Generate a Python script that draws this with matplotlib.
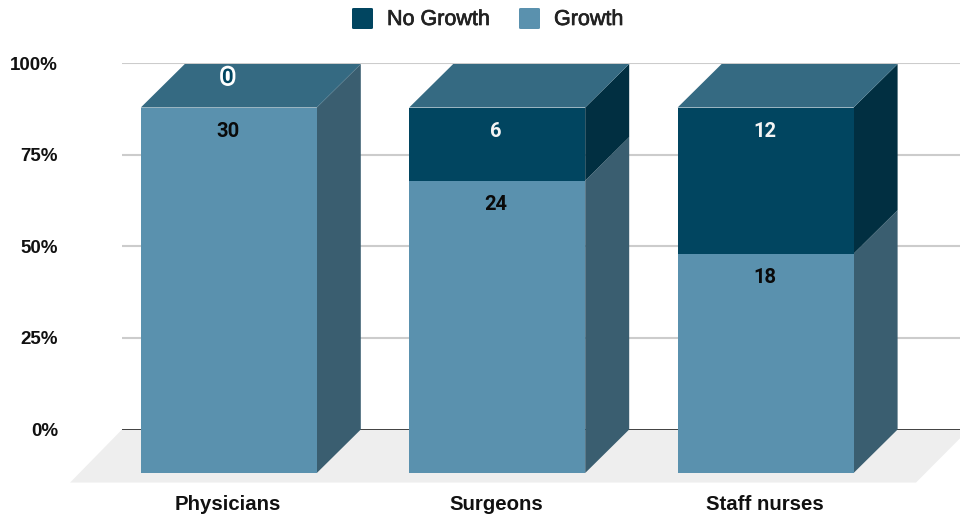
import matplotlib
matplotlib.use("Agg")
import matplotlib.pyplot as plt
from matplotlib.patches import Polygon, Rectangle, FancyBboxPatch
import matplotlib.patheffects as pe

categories = ["Physicians", "Surgeons", "Staff nurses"]
growth = [30, 24, 18]
no_growth = [0, 6, 12]
pct_ticks = [0, 25, 50, 75, 100]

C_GROWTH = "#5a91ae"
C_GROWTH_SIDE = "#3a5e70"
C_NOGROWTH = "#014560"
C_NOGROWTH_SIDE = "#012f41"
C_TOP = "#356a82"
C_FLOOR = "#eeeeee"

W, H = 960, 521
fig = plt.figure(figsize=(W / 100, H / 100), dpi=100)
# plot area runs off the right edge of the figure, 0-100% between y=429.5 and y=63.3
ax = fig.add_axes([122 / W, 1 - 429.5 / H, (960 - 122) / W, (429.5 - 63.3) / H])

spacing = 268.4
ax.set_xlim((122 - 228.8) / spacing, (960 - 228.8) / spacing)
ax.set_ylim(0, 100)

bar_w = 176 / spacing
dx = 44 / spacing          # box depth, horizontal
dy = 43.5 / 366.2 * 100    # box depth, vertical
front_scale = 365.5 / 366.2

for s in ax.spines.values():
    s.set_visible(False)
ax.set_xticks([])
ax.set_yticks(pct_ticks)
ax.set_yticklabels([f"{t}%" for t in pct_ticks], fontsize=13.5, fontweight="bold",
                   family="Liberation Sans", color="#111111")
ax.tick_params(axis="y", length=0, pad=46)


def poly(points, color, z):
    ax.add_patch(Polygon(points, closed=True, facecolor=color, edgecolor="none",
                         clip_on=False, zorder=z))


# floor below the zero line
x_left, x_right = ax.get_xlim()
poly([(x_left, 0), (x_left - dx * 1.18, -dy * 1.22), (x_right - dx, -dy * 1.22),
      (x_right + dx * 0.2, 0)], C_FLOOR, 1)

for t in pct_ticks[1:]:
    ax.plot([x_left, x_right], [t, t], color="#cccccc", lw=1.5, zorder=1.5)
ax.plot([x_left, x_right], [0, 0], color="#333333", lw=1.3, zorder=1.5, solid_capstyle="butt")

for i in range(len(categories)):
    total = growth[i] + no_growth[i]
    g = growth[i] / total * 100 * front_scale
    top = 100 * front_scale
    x0 = i - bar_w / 2
    x1 = i + bar_w / 2
    y0 = -dy

    # right side faces
    poly([(x1, y0), (x1 + dx, y0 + dy), (x1 + dx, y0 + dy + g), (x1, y0 + g)], C_GROWTH_SIDE, 3)
    if no_growth[i] > 0:
        poly([(x1, y0 + g), (x1 + dx, y0 + dy + g), (x1 + dx, y0 + dy + top), (x1, y0 + top)],
             C_NOGROWTH_SIDE, 3)
    # front faces
    ax.add_patch(Rectangle((x0, y0), bar_w, g, facecolor=C_GROWTH, edgecolor="none",
                           clip_on=False, zorder=4))
    if no_growth[i] > 0:
        ax.add_patch(Rectangle((x0, y0 + g), bar_w, top - g, facecolor=C_NOGROWTH,
                               edgecolor="none", clip_on=False, zorder=4))
    # lid
    poly([(x0, y0 + top), (x1, y0 + top), (x1 + dx, y0 + dy + top), (x0 + dx, y0 + dy + top)],
         C_TOP, 4)

    # value labels sit just under the top of each segment
    ax.annotate(str(growth[i]), (i, y0 + g), xytext=(-1, -23.5), textcoords="offset pixels",
                ha="center", va="center", fontsize=14.5, fontweight="bold", family="Roboto",
                color="#0a0a0a", zorder=6)
    if no_growth[i] > 0:
        ax.annotate(str(no_growth[i]), (i, y0 + top), xytext=(-1, -23.5), textcoords="offset pixels",
                    ha="center", va="center", fontsize=14.5, fontweight="bold", family="Roboto",
                    color="#f4f4f4", zorder=6)
    else:
        ax.annotate(str(no_growth[i]), (i, y0 + top), xytext=(-1, 30), textcoords="offset pixels",
                    ha="center", va="center", fontsize=14.5, fontweight="bold", family="Roboto",
                    color=C_NOGROWTH, zorder=6,
                    path_effects=[pe.withStroke(linewidth=4, foreground="white")])

    # category labels under the floor
    ax.annotate(categories[i], (i, -dy), xytext=(-1, -32), textcoords="offset pixels",
                ha="center", va="center", fontsize=14.7, fontweight="bold",
                family="Liberation Sans", color="#111111", annotation_clip=False)


# legend drawn in figure pixels
def fig_box(x, y, w, h, color):
    fig.add_artist(FancyBboxPatch((x / W, 1 - (y + h) / H), w / W, h / H,
                                  boxstyle="round,pad=0,rounding_size=0.002",
                                  transform=fig.transFigure, facecolor=color, edgecolor="none"))


heavier = [pe.withStroke(linewidth=0.5, foreground="#222222")]
fig_box(352, 8, 21, 21, C_NOGROWTH)
fig.text(387 / W, 1 - 19.5 / H, "No Growth", fontsize=15.5, family="Liberation Sans",
         ha="left", va="center", color="#222222", path_effects=heavier)
fig_box(519, 8, 21, 21, C_GROWTH)
fig.text(554 / W, 1 - 19.5 / H, "Growth", fontsize=15.5, family="Liberation Sans",
         ha="left", va="center", color="#222222", path_effects=heavier)

fig.savefig("out.png", dpi=100)
